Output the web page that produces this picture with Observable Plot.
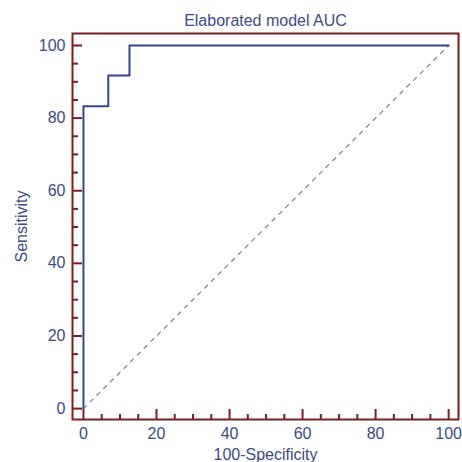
<!DOCTYPE html>
<html><head><meta charset="utf-8">
<script src="https://cdn.jsdelivr.net/npm/d3@7"></script>
<script src="https://cdn.jsdelivr.net/npm/@observablehq/plot@0.6"></script>
<style>body{margin:0;background:#fff}svg{font-family:"Liberation Sans",Arial,sans-serif}</style>
</head><body><div id="chart"></div>
<script>
const title = "Elaborated model AUC";
const xLabel = "100-Specificity";
const yLabel = "Sensitivity";
const rocFpr  = [0, 0, 6.8, 6.8, 12.6, 12.6, 100];
const rocSens = [0, 83.3, 83.3, 91.7, 91.7, 100, 100];
const diagFpr  = [0, 100];
const diagSens = [0, 100];
const majorTicks = [0, 20, 40, 60, 80, 100];
const minorTicks = d3.range(0, 101, 5).filter(v => v % 20 !== 0);

const frameColor = "#7a1e1e";
const textColor = "#3d4a8c";
const lineColor = "#34449a";

const roc = rocFpr.map((x, i) => ({x, y: rocSens[i]}));
const diag = diagFpr.map((x, i) => ({x, y: diagSens[i]}));

const chart = Plot.plot({
  width: 462, height: 462,
  marginLeft: 72, marginRight: 4, marginTop: 33, marginBottom: 43,
  style: {fontFamily: "Liberation Sans, Arial, sans-serif", background: "#fff"},
  x: {domain: [-3, 102.7]},
  y: {domain: [-3, 103.3]},
  marks: [
    Plot.line(diag, {x: "x", y: "y", stroke: "#888", strokeWidth: 1.3, strokeDasharray: "4,5.5"}),
    Plot.line(roc, {x: "x", y: "y", stroke: lineColor, strokeWidth: 2}),
    Plot.axisX({ticks: minorTicks, tickSize: -5, text: null, label: null, stroke: frameColor, strokeWidth: 2}),
    Plot.axisX({ticks: majorTicks, tickSize: -10, text: null, label: null, stroke: frameColor, strokeWidth: 2}),
    Plot.axisY({ticks: minorTicks, tickSize: -6, text: null, label: null, stroke: frameColor, strokeWidth: 2}),
    Plot.axisY({ticks: majorTicks, tickSize: -10, text: null, label: null, stroke: frameColor, strokeWidth: 2}),
    Plot.axisX({ticks: majorTicks, tickSize: 0, tickPadding: 8, fontSize: 16, fill: textColor,
      label: xLabel, labelAnchor: "center", labelArrow: "none", labelOffset: 40}),
    Plot.axisY({ticks: majorTicks, tickSize: 0, tickPadding: 7, fontSize: 16, fill: textColor,
      label: yLabel, labelAnchor: "center", labelArrow: "none", labelOffset: 57}),
    Plot.frame({stroke: frameColor, strokeWidth: 2}),
    Plot.text([title], {frameAnchor: "top", text: d => d, dy: -19, fontSize: 16, fill: textColor})
  ]
});
document.getElementById("chart").append(chart);
</script>
</body></html>
